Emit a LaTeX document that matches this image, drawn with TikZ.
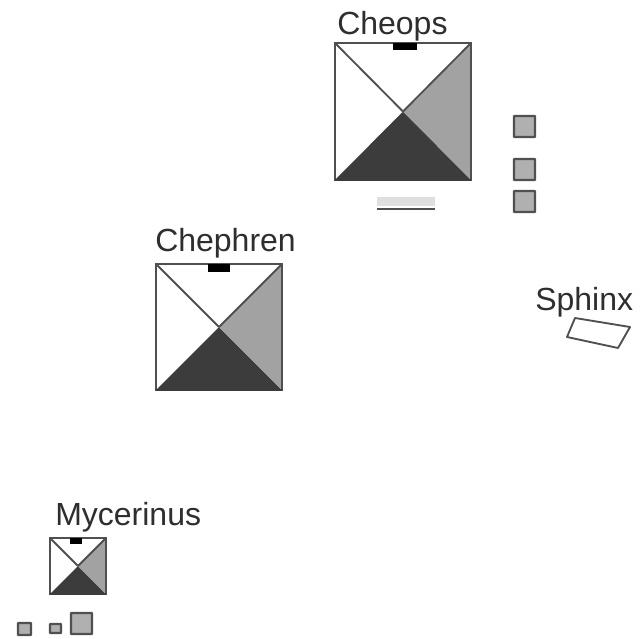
\documentclass[tikz,border=0pt]{standalone}
\usepackage{fontspec}
\setmainfont{Liberation Sans}
\definecolor{edgegray}{HTML}{505050}
\definecolor{darkface}{HTML}{3C3C3C}
\definecolor{midface}{HTML}{A2A2A2}
\definecolor{tomb}{HTML}{B0B0B0}
\definecolor{inkgray}{HTML}{2E2E2E}
\newcommand{\pyramid}[7]{% left, top, right, bottom, barleft, barright, barbottom
  \coordinate (c) at ({(#1+#3)/2},{(#2+#4)/2});
  \fill[darkface] (#1,#4) -- (c) -- (#3,#4) -- cycle;
  \fill[midface] (#3,#2) -- (c) -- (#3,#4) -- cycle;
  \draw[diag] (#1,#2) -- (c);
  \draw[diag] (#3,#2) -- (c);
  \draw[outline] (#1,#2) rectangle (#3,#4);
  \draw[darkface,line width=1.8pt] (#1,#4) -- (#3,#4);
  \fill[black] (#5,#2) rectangle (#6,#7);
}
\begin{document}
\begin{tikzpicture}[x=0.75pt,y=-0.75pt,
  outline/.style={draw=edgegray,line width=2pt,line join=miter},
  diag/.style={draw=edgegray,line width=1.4pt},
  tombbox/.style={draw=edgegray,line width=1.8pt,fill=tomb,rounded corners=0.5pt},
  lab/.style={anchor=base west,inner sep=0pt,text=inkgray,font=\fontsize{24}{28}\selectfont}]
\useasboundingbox (0,0) rectangle (640,639);
\fill[white] (0,0) rectangle (640,639);
% Cheops
\pyramid{335}{43}{471}{180}{393}{417}{50}
\draw[tombbox] (514,116) rectangle (535,137);
\draw[tombbox] (514,159) rectangle (535,180);
\draw[tombbox] (514,191) rectangle (535,212);
\fill[gray!25] (377,197) rectangle (435,206);
\draw[edgegray,line width=1.4pt] (377,209) -- (435,209);
% Chephren
\pyramid{156}{264}{282}{390}{208}{230}{272}
% Mycerinus
\pyramid{50}{538}{106}{594}{70}{82}{544}
\draw[tombbox] (18,623) rectangle (31,635);
\draw[tombbox] (50,624) rectangle (61,633);
\draw[tombbox] (71,613) rectangle (92,634);
% Sphinx
\draw[edgegray,line width=1.4pt,line join=round] (575,318) -- (630,327) -- (618,348) -- (567,337) -- cycle;
% Labels
\node[lab] (cheops) at (337,34) {Cheops};
\node[lab] (chephren) at (155,251) {Chephren};
\node[lab] (mycerinus) at (55,525) {Mycerinus};
\node[lab] (sphinx) at (535,310) {Sphinx};
\end{tikzpicture}
\end{document}
